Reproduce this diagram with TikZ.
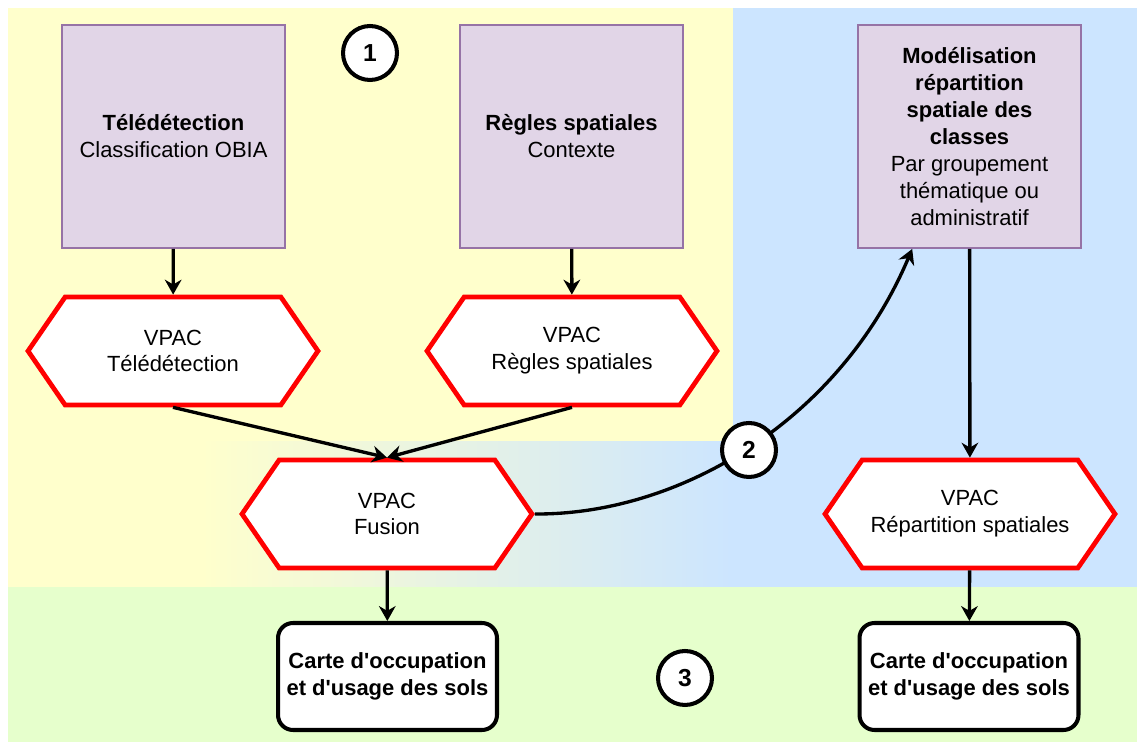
\documentclass[tikz,border=0pt]{standalone}
\usepackage{fontspec}
\setmainfont{Liberation Sans}
\usetikzlibrary{shapes.symbols,arrows.meta}

\definecolor{fondjaune}{HTML}{FFFFCC}
\definecolor{fondbleu}{HTML}{CCE5FF}
\definecolor{fondvert}{HTML}{E6FFCC}
\definecolor{mauve}{HTML}{E1D5E7}
\definecolor{mauvebord}{HTML}{9673A6}

\tikzset{
  source/.style={draw=mauvebord, fill=mauve, line width=1.1pt,
    minimum width=4.46cm, minimum height=4.46cm, align=center},
  vpac/.style={signal, signal to=west and east, signal pointer angle=111,
    draw=red, fill=white, line width=2.7pt,
    minimum width=5.8cm, minimum height=2.16cm, align=center},
  carte/.style={draw, fill=white, rounded corners=0.3cm, line width=2.3pt,
    minimum width=4.38cm, minimum height=2.14cm, align=center,
    font=\fontsize{12.5}{15}\selectfont\bfseries},
  etape/.style={circle, draw, fill=white, line width=2.3pt,
    minimum size=1.08cm, inner sep=0pt,
    font=\fontsize{14}{16}\selectfont\bfseries},
  fleche/.style={-{Stealth[length=8.5pt,width=9.5pt]}, line width=1.9pt}
}

\begin{document}
\begin{tikzpicture}[x=0.02cm, y=-0.02cm, font=\fontsize{12.5}{15.3}\selectfont]
    \useasboundingbox (0,0) rectangle (1137,742);

    % fonds
    \fill[fondjaune] (8,8) rectangle (733,587);
    \fill[fondbleu] (733,8) rectangle (1137,587);
    \shade[left color=fondjaune, right color=fondbleu] (200,442) rectangle (733,587);
    \fill[fondvert] (8,587) rectangle (1137,742);

    % sources
    \node[source] (tele) at (173.5,136.5) {{\bfseries Télédétection}\\Classification OBIA};
    \node[source] (regles) at (571.5,136.5) {{\bfseries Règles spatiales}\\Contexte};
    \node[source] (model) at (969.5,136.5) {{\bfseries Modélisation}\\{\bfseries répartition}\\{\bfseries spatiale des}\\{\bfseries classes}\\Par groupement\\thématique ou\\administratif};

    % VPAC
    \node[vpac] (vtele) at (173,351) {VPAC\\Télédétection};
    \node[vpac] (vregles) at (572,351) {VPAC\\Règles spatiales};
    \node[vpac] (vfusion) at (387,514) {VPAC\\Fusion};
    \node[vpac] (vrep) at (970,514) {VPAC\\Répartition spatiales};

    % cartes
    \node[carte] (carte1) at (387.5,676.5) {Carte d\textquotesingle occupation\\et d\textquotesingle usage des sols};
    \node[carte] (carte2) at (969,676.5) {Carte d\textquotesingle occupation\\et d\textquotesingle usage des sols};

    \draw[fleche] (tele) -- (vtele);
    \draw[fleche] (regles) -- (vregles);
    \draw[fleche] (vtele.south) -- (vfusion.north);
    \draw[fleche] (vregles.south) -- (vfusion.north);
    \draw[fleche] (vfusion.east) .. controls (680,515) and (840,420) .. (model.-117);
    \draw[fleche] (model) -- (vrep);
    \draw[fleche] (vfusion) -- (carte1);
    \draw[fleche] (vrep) -- (carte2);

    % etapes
    \node[etape] (e1) at (370,53) {1};
    \node[etape] (e2) at (749,450) {2};
    \node[etape] (e3) at (685,678) {3};
\end{tikzpicture}
\end{document}
